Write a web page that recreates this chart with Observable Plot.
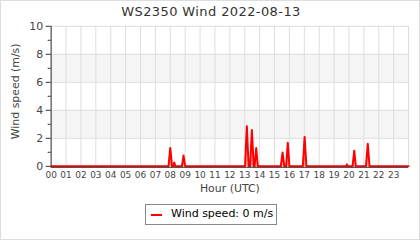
<!DOCTYPE html>
<html>
<head>
<meta charset="utf-8">
<script src="https://cdn.jsdelivr.net/npm/d3@7"></script>
<script src="https://cdn.jsdelivr.net/npm/@observablehq/plot@0.6"></script>
<style>
  html, body { margin: 0; padding: 0; background: #fff; }
  #frame { position: relative; width: 418px; height: 238px; border: 1px solid #ddd; overflow: hidden; font-family: "DejaVu Sans", sans-serif; color: #333; }
  #title { position: absolute; left: 0; top: 3px; width: 420px; text-align: center; font-size: 13px; color: #333; letter-spacing: 0.4px; }
  #chart { position: absolute; left: -1px; top: -1px; }
  #legend { position: absolute; left: 144px; top: 203px; width: 130px; height: 19px; border: 1px solid #888; font-size: 11px; color: #000; background: #fff; }
  #legend .sw { position: absolute; left: 5px; top: 9px; width: 11px; height: 2px; background: #f00; }
  #legend .tx { position: absolute; left: 25px; top: 2px; white-space: nowrap; }
</style>
</head>
<body>
<div id="frame">
  <div id="title">WS2350 Wind 2022-08-13</div>
  <div id="chart"></div>
  <div id="legend"><div class="sw"></div><div class="tx">Wind speed: 0 m/s</div></div>
</div>
<script>
// Wind speed samples (hour of day UTC, m/s)
const hours = [0, 7.88, 8.0, 8.12, 8.2, 8.27, 8.34, 8.78, 8.89, 9.0,
  13.02, 13.14, 13.26, 13.36, 13.48, 13.6, 13.66, 13.77, 13.88,
  15.42, 15.54, 15.66, 15.78, 15.89, 16.0,
  16.9, 17.02, 17.14,
  19.8, 19.86, 19.92,
  20.24, 20.35, 20.46,
  21.14, 21.26, 21.38, 24];
const speeds = [0, 0, 1.31, 0, 0, 0.28, 0, 0, 0.77, 0,
  0, 2.87, 0, 0, 2.59, 0, 0, 1.31, 0,
  0, 0.98, 0, 0, 1.68, 0,
  0, 2.1, 0,
  0, 0.14, 0,
  0, 1.12, 0,
  0, 1.61, 0, 0];
const bandLo = [2, 6];
const bandHi = [4, 8];
const xTicks = d3.range(0, 24);
const xGrid = d3.range(0, 25);
const yMajor = [0, 2, 4, 6, 8, 10];
const yMinor = [1, 3, 5, 7, 9];

const data = hours.map((h, i) => ({h, v: speeds[i]}));
const bandData = bandLo.map((a, i) => ({a, b: bandHi[i], x1: 0, x2: 24}));

const plot = Plot.plot({
  width: 422,
  height: 200,
  marginLeft: 51,
  marginRight: 11,
  marginTop: 26,
  marginBottom: 33,
  style: {fontFamily: "DejaVu Sans, sans-serif", fontSize: "10px", color: "#444", background: "transparent"},
  x: {type: "linear", domain: [0, 24], label: null},
  y: {type: "linear", domain: [0, 10], label: null},
  marks: [
    Plot.rect(bandData, {x1: "x1", x2: "x2", y1: "a", y2: "b", fill: "#f5f5f5"}),
    Plot.gridX(xGrid, {stroke: "#ddd", strokeOpacity: 1, strokeWidth: 1}),
    Plot.gridY(yMajor, {stroke: "#ddd", strokeOpacity: 1, strokeWidth: 1}),
    Plot.areaY(data, {x: "h", y: "v", fill: "#ff0000", fillOpacity: 0.3}),
    Plot.line(data, {x: "h", y: "v", stroke: "#ff0000", strokeWidth: 2}),
    Plot.ruleX([0], {stroke: "#333", strokeWidth: 1}),
    Plot.ruleY([0], {stroke: "#333", strokeWidth: 1, dy: 1}),
    Plot.axisY(yMajor, {tickSize: 5, tickPadding: 3, fontSize: 11, stroke: "#333", color: "#444", label: null}),
    Plot.axisY(yMinor, {tickSize: 3, tickFormat: () => "", stroke: "#333", label: null}),
    Plot.axisX(xTicks, {tickSize: 0, tickPadding: 5, fontSize: 9, color: "#444", label: null, tickFormat: d => String(d).padStart(2, "0")}),
    Plot.text(["Hour (UTC)"], {frameAnchor: "bottom", dy: 26, fontSize: 11, fill: "#444"}),
    Plot.text(["Wind speed (m/s)"], {frameAnchor: "left", textAnchor: "middle", dx: -36, dy: -5, rotate: -90, fontSize: 11, fill: "#444"})
  ]
});
document.getElementById("chart").appendChild(plot);
</script>
</body>
</html>
